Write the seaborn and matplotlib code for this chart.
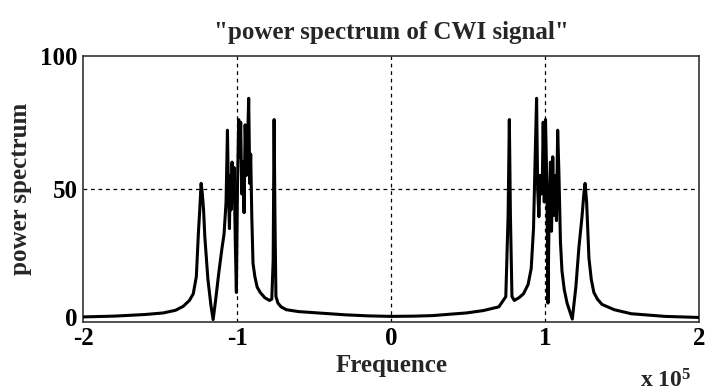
import matplotlib
matplotlib.use("Agg")
import matplotlib.pyplot as plt
import matplotlib.transforms as mtransforms
import pandas as pd
import seaborn as sns

# Spectrum samples: frequency in units of 1e5, power in arbitrary units
freq = [
    -2.00, -1.80, -1.60, -1.48, -1.40, -1.35, -1.31, -1.285, -1.265, -1.252,
    -1.242, -1.234, -1.226, -1.218, -1.210, -1.190, -1.170, -1.156, -1.140, -1.120,
    -1.100, -1.085, -1.072, -1.063, -1.057, -1.050, -1.045, -1.040, -1.033, -1.027,
    -1.020, -1.012, -1.005, -0.998, -0.990, -0.983, -0.977, -0.970, -0.962, -0.955,
    -0.948, -0.940, -0.933, -0.925, -0.918, -0.912, -0.905, -0.897, -0.885, -0.870,
    -0.850, -0.820, -0.790, -0.775, -0.766, -0.760, -0.754, -0.748, -0.735, -0.715,
    -0.680, -0.600, -0.450, -0.300, -0.150, 0.000,
    0.150, 0.270, 0.400, 0.490, 0.600, 0.700, 0.745, 0.760, 0.768, 0.775,
    0.785, 0.800, 0.830, 0.860, 0.890, 0.910, 0.925, 0.935, 0.945, 0.952,
    0.960, 0.968, 0.975, 0.982, 0.988, 0.995, 1.003, 1.012, 1.019, 1.026,
    1.035, 1.042, 1.050, 1.058, 1.066, 1.074, 1.082, 1.090, 1.100, 1.110,
    1.125, 1.143, 1.177, 1.200, 1.220, 1.240, 1.252, 1.260, 1.270, 1.285,
    1.300, 1.317, 1.340, 1.370, 1.450, 1.560, 1.780, 2.000,
]
power = [
    1.8, 2.1, 2.7, 3.3, 4.3, 5.8, 8.0, 10.5, 17.0, 33.0,
    43.0, 52.0, 48.0, 42.0, 32.0, 16.0, 6.0, 0.8, 8.0, 18.0,
    27.0, 33.0, 45.0, 72.0, 50.0, 35.0, 55.0, 42.0, 60.0, 45.0,
    58.0, 30.0, 11.0, 50.0, 76.0, 62.0, 75.0, 48.0, 60.0, 41.0,
    74.0, 55.0, 66.0, 84.0, 52.0, 63.0, 40.0, 22.0, 17.0, 13.0,
    11.0, 9.0, 8.0, 8.5, 23.0, 76.0, 37.0, 9.5, 7.0, 5.6,
    4.5, 3.8, 3.2, 2.6, 2.2, 2.0,
    2.1, 2.3, 2.9, 3.3, 4.2, 5.6, 9.4, 40.0, 76.0, 40.0,
    9.5, 8.0, 9.0, 10.5, 14.0, 20.0, 35.0, 60.0, 84.0, 50.0,
    39.5, 55.0, 48.0, 52.0, 75.0, 45.0, 76.0, 50.0, 7.0, 39.5,
    60.0, 34.0, 62.0, 40.0, 55.0, 38.0, 72.0, 56.0, 30.0, 19.0,
    12.0, 7.0, 1.0, 13.0, 28.0, 39.5, 48.0, 52.0, 45.0, 24.0,
    16.0, 11.0, 8.5, 6.5, 4.5, 3.0, 2.0, 1.6,
]

x_ticks = [-2, -1, 0, 1, 2]
x_tick_labels = ["-2", "-1", "0", "1", "2"]
y_ticks = [0, 50, 100]
y_tick_labels = ["0", "50", "100"]

sns.set_theme(style="white")
plt.rcParams["font.family"] = ["Liberation Serif", "DejaVu Serif"]
plt.rcParams["font.weight"] = "bold"
plt.rcParams["mathtext.fontset"] = "custom"
plt.rcParams["mathtext.rm"] = "Liberation Serif:bold"
plt.rcParams["mathtext.default"] = "rm"

df = pd.DataFrame({"Frequence": freq, "power": power})

fig = plt.figure(figsize=(7.05, 3.91), dpi=100)
ax = fig.add_axes([0.118, 0.1772, 0.8735, 0.6803])

# dashed grid drawn underneath the spectrum
for xv in x_ticks[1:-1]:
    ax.axvline(xv, color="black", lw=0.9, ls=(0, (3, 3)), zorder=1)
for yv in y_ticks[1:-1]:
    ax.axhline(yv, color="black", lw=0.9, ls=(0, (3, 3)), zorder=1)

sns.lineplot(data=df, x="Frequence", y="power", ax=ax, color="black",
             lw=2.2, sort=False, estimator=None, zorder=3)

ax.set_xlim(-2, 2)
ax.set_ylim(0, 100)
ax.set_xticks(x_ticks)
ax.set_xticklabels(x_tick_labels)
ax.set_yticks(y_ticks)
ax.set_yticklabels(y_tick_labels)
ax.tick_params(axis="both", direction="out", length=2, width=1,
               labelsize=18, colors="black")
ax.tick_params(axis="x", pad=1.5)
ax.tick_params(axis="y", pad=2)
for lab in ax.get_xticklabels() + ax.get_yticklabels():
    lab.set_fontweight("bold")

# lift the bottom y label a little so it clears the "-2" below it
ylab0 = ax.get_yticklabels()[0]
ylab0.set_transform(ylab0.get_transform() +
                    mtransforms.ScaledTranslation(0, 5 / 100, fig.dpi_scale_trans))

for sp in ax.spines.values():
    sp.set_visible(True)
    sp.set_color("#333333")
    sp.set_linewidth(1.2)

ax.set_xlabel("Frequence", fontsize=18, fontweight="bold", labelpad=3)
ax.set_ylabel("power spectrum", fontsize=18, fontweight="bold", labelpad=6)
ax.set_title('"power spectrum of CWI signal"', fontsize=18, fontweight="bold",
             pad=12)

fig.text(640 / 705, 1 - 387 / 391, r"x 10$^{5}$", fontsize=17,
         fontweight="bold", ha="left", va="baseline")

fig.savefig("out.png", dpi=100, facecolor="white")
